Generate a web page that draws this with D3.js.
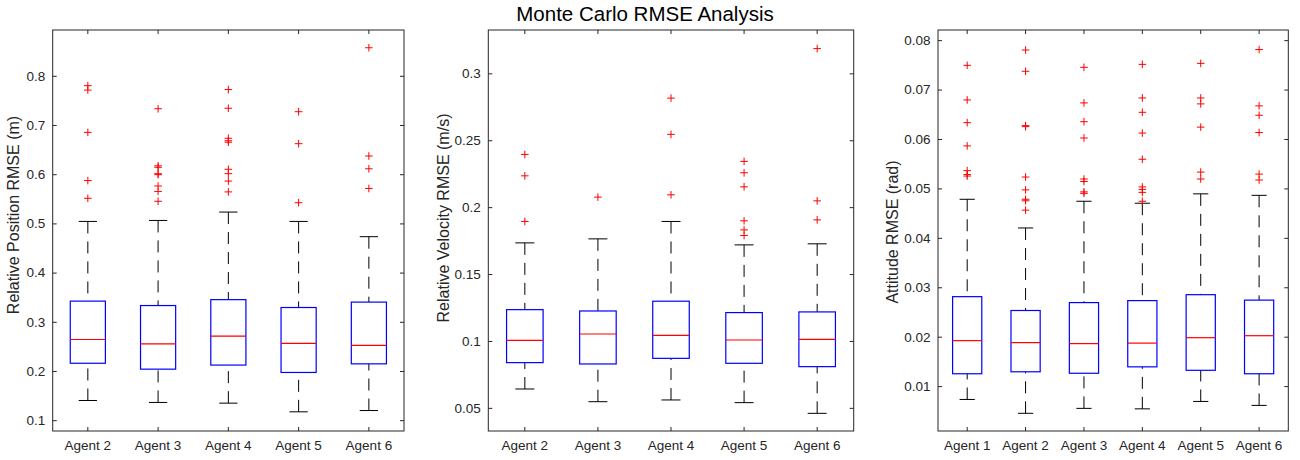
<!DOCTYPE html>
<html>
<head>
<meta charset="utf-8">
<script src="https://cdn.jsdelivr.net/npm/d3@7"></script>
<style>
  html, body { margin: 0; padding: 0; background: #ffffff; }
  svg { display: block; font-family: "Liberation Sans", Arial, Helvetica, sans-serif; }
</style>
</head>
<body>
<svg id="chart" width="1300" height="460"></svg>
<script>
// ---------------- DATA ----------------
const chartTitle = "Monte Carlo RMSE Analysis";

// Panel 1: Relative Position RMSE (m)
const posCategories = ["Agent 2", "Agent 3", "Agent 4", "Agent 5", "Agent 6"];
const posWhiskerLow = [0.140, 0.136, 0.1346, 0.117, 0.1196];
const posQ1 = [0.2157, 0.2037, 0.212, 0.197, 0.2145];
const posMedian = [0.264, 0.255, 0.271, 0.256, 0.252];
const posQ3 = [0.342, 0.333, 0.345, 0.329, 0.340];
const posWhiskerHigh = [0.504, 0.506, 0.523, 0.504, 0.473];
const posOutliers = [
  [0.780, 0.771, 0.685, 0.587, 0.551],
  [0.733, 0.617, 0.614, 0.601, 0.599, 0.576, 0.565, 0.545],
  [0.772, 0.734, 0.673, 0.668, 0.665, 0.610, 0.601, 0.586, 0.564],
  [0.727, 0.662, 0.542],
  [0.857, 0.637, 0.611, 0.571]
];
const posTicks = [0.1, 0.2, 0.3, 0.4, 0.5, 0.6, 0.7, 0.8];
const posDomain = [0.078, 0.8931];
const posLabel = "Relative Position RMSE (m)";

// Panel 2: Relative Velocity RMSE (m/s)
const velCategories = ["Agent 2", "Agent 3", "Agent 4", "Agent 5", "Agent 6"];
const velWhiskerLow = [0.0641, 0.0546, 0.0559, 0.0539, 0.0459];
const velQ1 = [0.0838, 0.0828, 0.0870, 0.0833, 0.0808];
const velMedian = [0.1005, 0.1052, 0.1042, 0.1007, 0.1012];
const velQ3 = [0.1234, 0.1224, 0.1297, 0.1212, 0.1217];
const velWhiskerHigh = [0.1733, 0.1763, 0.1893, 0.1718, 0.1726];
const velOutliers = [
  [0.2394, 0.2234, 0.1893],
  [0.2075],
  [0.2815, 0.2544, 0.2092],
  [0.2342, 0.2257, 0.2152, 0.1898, 0.1830, 0.1788],
  [0.3185, 0.2047, 0.1905]
];
const velTicks = [0.05, 0.1, 0.15, 0.2, 0.25, 0.3];
const velDomain = [0.0327, 0.3324];
const velLabel = "Relative Velocity RMSE (m/s)";

// Panel 3: Attitude RMSE (rad)
const attCategories = ["Agent 1", "Agent 2", "Agent 3", "Agent 4", "Agent 5", "Agent 6"];
const attWhiskerLow = [0.0073, 0.0045, 0.0055, 0.0054, 0.0069, 0.0061];
const attQ1 = [0.0125, 0.0129, 0.0126, 0.0139, 0.0132, 0.0125];
const attMedian = [0.0192, 0.0188, 0.0186, 0.0187, 0.0198, 0.0202];
const attQ3 = [0.0281, 0.0253, 0.0269, 0.0273, 0.0285, 0.0274];
const attWhiskerHigh = [0.0478, 0.0420, 0.0474, 0.0470, 0.0489, 0.0486];
const attOutliers = [
  [0.0749, 0.0679, 0.0633, 0.0586, 0.0536, 0.0528, 0.0525],
  [0.0780, 0.0737, 0.0627, 0.0625, 0.0523, 0.0497, 0.0478, 0.0475, 0.0456],
  [0.0745, 0.0673, 0.0635, 0.0602, 0.0519, 0.0514, 0.0493, 0.0490],
  [0.0751, 0.0683, 0.0654, 0.0612, 0.0559, 0.0503, 0.0498, 0.0492, 0.0474],
  [0.0753, 0.0683, 0.0671, 0.0624, 0.0533, 0.0519],
  [0.0781, 0.0667, 0.0648, 0.0613, 0.0529, 0.0517]
];
const attTicks = [0.01, 0.02, 0.03, 0.04, 0.05, 0.06, 0.07, 0.08];
const attDomain = [0.00092, 0.08205];
const attLabel = "Attitude RMSE (rad)";

// ---------------- LAYOUT ----------------
const AX_TOP = 30, AX_BOTTOM = 431;
const panels = [
  { left: 52.7, right: 404.0, labelX: 18.5, labelY: 215, cats: posCategories, lo: posWhiskerLow, q1: posQ1, med: posMedian, q3: posQ3, hi: posWhiskerHigh, out: posOutliers, ticks: posTicks, domain: posDomain, label: posLabel },
  { left: 488.3, right: 853.7, labelX: 449, labelY: 218, cats: velCategories, lo: velWhiskerLow, q1: velQ1, med: velMedian, q3: velQ3, hi: velWhiskerHigh, out: velOutliers, ticks: velTicks, domain: velDomain, label: velLabel },
  { left: 938.0, right: 1288.3, labelX: 898, labelY: 232, cats: attCategories, lo: attWhiskerLow, q1: attQ1, med: attMedian, q3: attQ3, hi: attWhiskerHigh, out: attOutliers, ticks: attTicks, domain: attDomain, label: attLabel }
];

const AXIS_COLOR = "#262626";
const TICK_LEN = 4;
const fmt = d3.format("~g");

const svg = d3.select("#chart");

svg.append("text")
  .attr("x", 645).attr("y", 20.5)
  .attr("text-anchor", "middle")
  .attr("font-size", 20.5)
  .attr("fill", "#000")
  .text(chartTitle);

panels.forEach(p => {
  const g = svg.append("g");
  const x = d3.scaleBand().domain(p.cats).range([p.left, p.right]).paddingInner(0).paddingOuter(0);
  const y = d3.scaleLinear().domain(p.domain).range([AX_BOTTOM, AX_TOP]);
  const bw = x.bandwidth();
  const cx = c => x(c) + bw / 2;
  const boxHalf = bw * 0.25;
  const capHalf = bw * 0.13;

  // axes box
  g.append("rect")
    .attr("x", p.left).attr("y", AX_TOP)
    .attr("width", p.right - p.left).attr("height", AX_BOTTOM - AX_TOP)
    .attr("fill", "none").attr("stroke", AXIS_COLOR).attr("stroke-width", 1);

  // axes (inward ticks)
  const styleAxis = sel => {
    sel.select(".domain").remove();
    sel.selectAll(".tick line").attr("stroke", AXIS_COLOR).attr("stroke-width", 1);
    sel.selectAll(".tick text").attr("fill", AXIS_COLOR).attr("font-size", 13.5)
      .attr("font-family", "'Liberation Sans', Arial, Helvetica, sans-serif");
  };
  g.append("g").attr("transform", `translate(${p.left},0)`)
    .call(d3.axisLeft(y).tickValues(p.ticks).tickFormat(fmt).tickSizeInner(-TICK_LEN).tickSizeOuter(0).tickPadding(7.5))
    .call(styleAxis);
  g.append("g").attr("transform", `translate(${p.right},0)`)
    .call(d3.axisRight(y).tickValues(p.ticks).tickFormat("").tickSizeInner(-TICK_LEN).tickSizeOuter(0))
    .call(styleAxis);
  const xb = d3.axisBottom(x).tickSizeInner(-TICK_LEN).tickSizeOuter(0).tickPadding(0);
  const xAxisG = g.append("g").attr("transform", `translate(0,${AX_BOTTOM})`).call(xb).call(styleAxis);
  xAxisG.selectAll(".tick text").attr("dy", null).attr("y", 18.5);
  g.append("g").attr("transform", `translate(0,${AX_TOP})`)
    .call(d3.axisTop(x).tickFormat("").tickSizeInner(-TICK_LEN).tickSizeOuter(0))
    .call(styleAxis);

  // y label
  g.append("text")
    .attr("transform", `translate(${p.labelX},${p.labelY}) rotate(-90)`)
    .attr("text-anchor", "middle")
    .attr("font-size", 16)
    .attr("fill", AXIS_COLOR)
    .text(p.label);

  const idx = d3.range(p.cats.length);

  // whiskers (dashed)
  g.selectAll(".wh-up").data(idx).join("line")
    .attr("x1", i => cx(p.cats[i])).attr("x2", i => cx(p.cats[i]))
    .attr("y1", i => y(p.hi[i])).attr("y2", i => y(p.q3[i]))
    .attr("stroke", "#000").attr("stroke-width", 1).attr("stroke-dasharray", "12,8");
  g.selectAll(".wh-dn").data(idx).join("line")
    .attr("x1", i => cx(p.cats[i])).attr("x2", i => cx(p.cats[i]))
    .attr("y1", i => y(p.lo[i])).attr("y2", i => y(p.q1[i]))
    .attr("stroke", "#000").attr("stroke-width", 1).attr("stroke-dasharray", "12,8");
  // caps
  [p.hi, p.lo].forEach(arr => {
    g.selectAll(null).data(idx).join("line")
      .attr("x1", i => cx(p.cats[i]) - capHalf).attr("x2", i => cx(p.cats[i]) + capHalf)
      .attr("y1", i => y(arr[i])).attr("y2", i => y(arr[i]))
      .attr("stroke", "#000").attr("stroke-width", 1);
  });
  // boxes
  g.selectAll(".box").data(idx).join("rect")
    .attr("x", i => cx(p.cats[i]) - boxHalf)
    .attr("width", boxHalf * 2)
    .attr("y", i => y(p.q3[i]))
    .attr("height", i => y(p.q1[i]) - y(p.q3[i]))
    .attr("fill", "none").attr("stroke", "#0000ff").attr("stroke-width", 1.2);
  // medians
  g.selectAll(".med").data(idx).join("line")
    .attr("x1", i => cx(p.cats[i]) - boxHalf).attr("x2", i => cx(p.cats[i]) + boxHalf)
    .attr("y1", i => y(p.med[i])).attr("y2", i => y(p.med[i]))
    .attr("stroke", "#ff0000").attr("stroke-width", 1.2);
  // outliers
  const pts = [];
  p.out.forEach((arr, i) => arr.forEach(v => pts.push({ c: p.cats[i], v })));
  const m = 3.8;
  g.selectAll(".out").data(pts).join("path")
    .attr("d", d => {
      const px = cx(d.c), py = y(d.v);
      return `M${px - m},${py}H${px + m}M${px},${py - m}V${py + m}`;
    })
    .attr("stroke", "#ff0000").attr("stroke-width", 1).attr("fill", "none");
});
</script>
</body>
</html>
